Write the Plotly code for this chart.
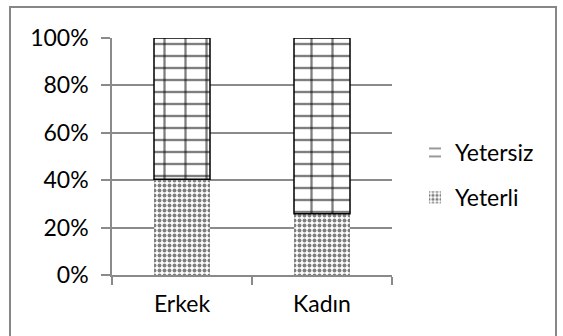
import plotly.graph_objects as go

categories = ["Erkek", "Kadın"]
yeterli = [40.4, 25.8]
yetersiz = [59.6, 74.2]
tick_vals = [0, 20, 40, 60, 80, 100]
tick_text = ["0%", "20%", "40%", "60%", "80%", "100%"]

FONT = "Lato"
GRID = "#8a8a8a"

fig = go.Figure()
fig.add_trace(go.Bar(
    x=categories, y=yeterli, name="Yeterli", legendgroup="a", legendrank=2,
    marker=dict(color="white", line=dict(width=0),
                pattern=dict(shape=".", fgcolor="black", bgcolor="white",
                             size=5, solidity=0.5, fillmode="overlay")),
))
# brick-like fill: horizontal courses + vertical joints overlaid
fig.add_trace(go.Bar(
    x=categories, y=yetersiz, base=yeterli, name="Yetersiz", legendgroup="b",
    legendrank=1,
    marker=dict(color="white", line=dict(width=0),
                pattern=dict(shape="-", fgcolor="black", bgcolor="white",
                             size=12, solidity=0.2, fillmode="overlay")),
))
fig.add_trace(go.Bar(
    x=categories, y=yetersiz, base=yeterli, name="Yetersiz", legendgroup="b",
    showlegend=False, hoverinfo="skip",
    marker=dict(color="rgba(0,0,0,0)", line=dict(width=1.5, color="black"),
                pattern=dict(shape="|", fgcolor="black", bgcolor="rgba(0,0,0,0)",
                             size=21, solidity=0.11, fillmode="overlay")),
))

W, H = 563, 336
L, R, T, B = 112, 171, 38, 61
pw, ph = W - L - R, H - T - B

def px(x):
    return (x - L) / pw

def py(y):
    return (H - B - y) / ph

fig.update_layout(
    width=W, height=H,
    margin=dict(l=L, r=R, t=T, b=B),
    barmode="overlay", bargap=0.6,
    plot_bgcolor="white", paper_bgcolor="white",
    font=dict(family=FONT, size=23, color="black"),
    showlegend=True,
    legend=dict(x=px(415), y=py(131), xanchor="left", yanchor="top",
                traceorder="grouped", tracegroupgap=12,
                font=dict(family=FONT, size=23, color="black"),
                bgcolor="rgba(0,0,0,0)"),
    shapes=[dict(type="rect", xref="paper", yref="paper",
                 x0=px(10), x1=px(556), y0=py(345), y1=py(7),
                 line=dict(color="#878787", width=2), layer="below")],
)
fig.update_xaxes(
    type="category", showline=True, linecolor=GRID, linewidth=1.5,
    ticks="outside", tickson="boundaries", ticklen=8, tickcolor=GRID,
    tickwidth=1.5, ticklabelstandoff=8, showgrid=False,
)
fig.update_yaxes(
    range=[0, 100], tickvals=tick_vals, ticktext=tick_text,
    showline=True, linecolor=GRID, linewidth=1.5,
    ticks="outside", ticklen=9, tickcolor=GRID, tickwidth=1.5,
    showgrid=True, gridcolor=GRID, gridwidth=1.5, zeroline=False,
    ticklabelstandoff=8,
)

fig.write_html(
    "out.html",
    config={"displayModeBar": False},
    post_script="document.body.style.margin='0';document.body.style.overflow='hidden';",
)
